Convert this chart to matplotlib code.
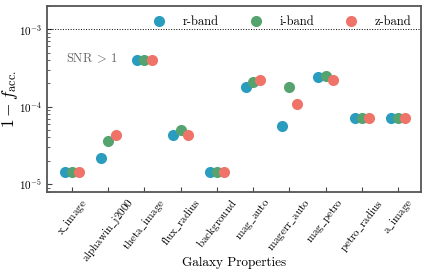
import numpy as np
import matplotlib
matplotlib.use("Agg")
import matplotlib.pyplot as plt

plt.rcParams['font.family'] = ['cmr10', 'DejaVu Serif']
plt.rcParams['mathtext.fontset'] = 'cm'
plt.rcParams['axes.formatter.use_mathtext'] = True

# data
props = ['x_image', 'alphawin_j2000', 'theta_image', 'flux_radius', 'background',
         'mag_auto', 'magerr_auto', 'mag_petro', 'petro_radius', 'a_image']
r_band = [1.43e-5, 2.17e-5, 4.0e-4, 4.3e-5, 1.43e-5, 1.79e-4, 5.7e-5, 2.4e-4, 7.2e-5, 7.2e-5]
i_band = [1.43e-5, 3.6e-5, 4.0e-4, 5.0e-5, 1.43e-5, 2.07e-4, 1.79e-4, 2.47e-4, 7.2e-5, 7.2e-5]
z_band = [1.43e-5, 4.3e-5, 4.0e-4, 4.3e-5, 1.43e-5, 2.24e-4, 1.07e-4, 2.24e-4, 7.2e-5, 7.2e-5]

colors = ['#2a9dbf', '#55a36e', '#f0736a']
labels = ['r-band', 'i-band', 'z-band']

fig = plt.figure(figsize=(4.28, 2.75), dpi=100)
ax = fig.add_axes([0.110, 0.302, 0.874, 0.676])

x = np.arange(len(props))
for k, (vals, c, lab) in enumerate(zip([r_band, i_band, z_band], colors, labels)):
    ax.plot(x + (k - 1) * 0.2, vals, 'o', color=c, ms=8, mec='none', label=lab, zorder=3)

ax.axhline(1e-3, color='k', ls=':', lw=0.7)
ax.set_yscale('log')
ax.set_ylim(7.9e-6, 2e-3)
ax.set_xlim(-0.69, 9.64)
ax.set_xticks(x)
tick_labels = [r'$\mathrm{' + p.replace('_', r'\_') + '}$' for p in props]
ax.set_xticklabels(tick_labels, rotation=52, ha='center')
ax.tick_params(axis='both', direction='in', color='#444444', labelsize=8)
ax.tick_params(axis='x', labelsize=8, pad=3)
ax.tick_params(axis='y', which='minor', direction='in', color='#444444')
for s in ax.spines.values():
    s.set_color('#555555')
    s.set_linewidth(1.3)

ax.set_ylabel(r'$1 - f_{\rm acc.}$', fontsize=12.5)
ax.yaxis.set_label_coords(-0.072, 0.5)
ax.set_xlabel('Galaxy Properties', fontsize=9.5, va='top')
ax.xaxis.set_label_coords(0.5, -0.35)
ax.text(0.05, 0.70, r'$\mathrm{SNR}\:>\:1$', transform=ax.transAxes, color='#666666', fontsize=9)
ax.legend(loc='center', ncol=3, frameon=False, fontsize=9, bbox_to_anchor=(0.62, 0.914),
          handletextpad=0.85, columnspacing=2.0, handlelength=2.0)

fig.savefig('out.png', dpi=100)
